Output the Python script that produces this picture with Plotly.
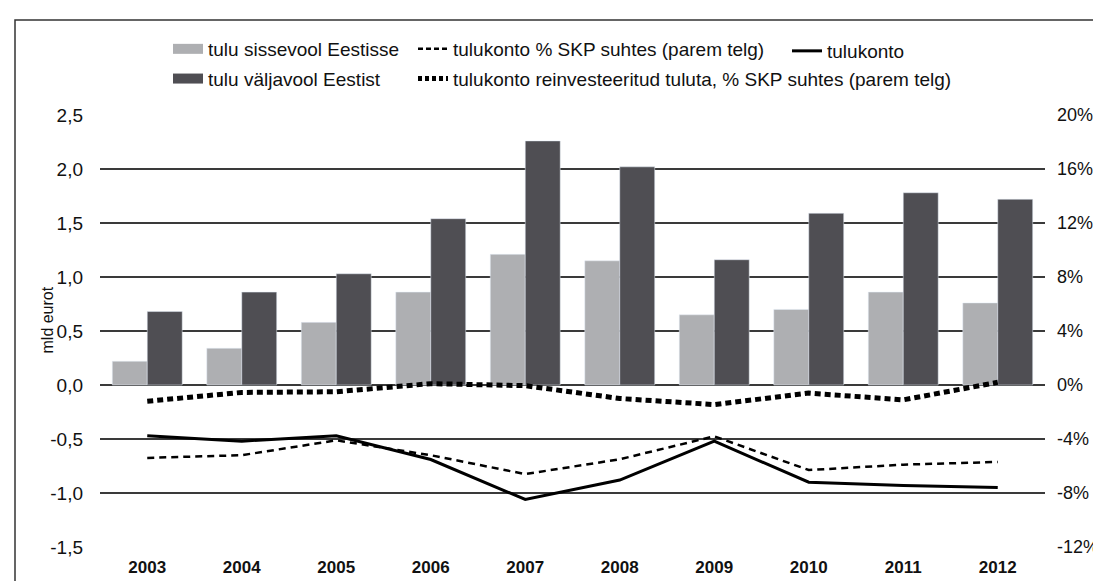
import plotly.graph_objects as go

# income account of Estonia, 2003-2012
years = ['2003', '2004', '2005', '2006', '2007', '2008', '2009', '2010', '2011', '2012']
inflow = [0.22, 0.34, 0.58, 0.86, 1.21, 1.15, 0.65, 0.70, 0.86, 0.76]   # mld eurot
outflow = [0.68, 0.86, 1.03, 1.54, 2.26, 2.02, 1.16, 1.59, 1.78, 1.72]  # mld eurot
balance = [-0.47, -0.52, -0.47, -0.69, -1.06, -0.88, -0.52, -0.90, -0.93, -0.95]  # mld eurot
balance_pct = [-5.4, -5.2, -4.1, -5.2, -6.6, -5.5, -3.8, -6.3, -5.9, -5.7]  # % SKP
balance_excl_reinv_pct = [-1.2, -0.55, -0.5, 0.1, -0.05, -1.0, -1.45, -0.6, -1.1, 0.2]  # % SKP

left_ticks = [-1.5, -1.0, -0.5, 0.0, 0.5, 1.0, 1.5, 2.0, 2.5]
left_labels = ['-1,5', '-1,0', '-0,5', '0,0', '0,5', '1,0', '1,5', '2,0', '2,5']
right_ticks = [-12, -8, -4, 0, 4, 8, 12, 16, 20]
right_labels = ['-12%', '-8%', '-4%', '0%', '4%', '8%', '12%', '16%', '20%']

LIGHT = '#aeafb2'
DARK = '#4f4e53'
FONT = 'Liberation Sans, Arial, sans-serif'

W, H = 1101, 581
L, R, T, B = 92, 64, 107, 42
pw, ph = W - L - R, H - T - B

def px(x):
    return (x - L) / pw

def py(y):
    return (H - B - y) / ph

fig = go.Figure()
fig.add_trace(go.Bar(x=years, y=inflow, marker_color=LIGHT, showlegend=False))
fig.add_trace(go.Bar(x=years, y=outflow, marker_color=DARK, showlegend=False))
fig.add_trace(go.Scatter(x=years, y=balance_excl_reinv_pct, yaxis='y2', mode='lines',
                         line=dict(color='black', width=5, dash='6px,4px'), showlegend=False))
fig.add_trace(go.Scatter(x=years, y=balance_pct, yaxis='y2', mode='lines',
                         line=dict(color='black', width=2.5, dash='7px,5px'), showlegend=False))
fig.add_trace(go.Scatter(x=years, y=balance, mode='lines',
                         line=dict(color='black', width=3), showlegend=False))

# legend entries (wide colour boxes like the original)
fig.add_trace(go.Scatter(x=[None], y=[None], mode='lines', name='tulu sissevool Eestisse',
                         line=dict(color=LIGHT, width=11), legend='legend', legendgroup='a'))
fig.add_trace(go.Scatter(x=[None], y=[None], mode='lines', name='tulu väljavool Eestist',
                         line=dict(color=DARK, width=11), legend='legend', legendgroup='b'))
fig.add_trace(go.Scatter(x=[None], y=[None], mode='lines', name='tulukonto % SKP suhtes (parem telg)',
                         line=dict(color='black', width=2.5, dash='5px,3px'), legend='legend2', legendgroup='c'))
fig.add_trace(go.Scatter(x=[None], y=[None], mode='lines',
                         name='tulukonto reinvesteeritud tuluta, % SKP suhtes (parem telg)',
                         line=dict(color='black', width=5, dash='4px,3px'), legend='legend2', legendgroup='d'))
fig.add_trace(go.Scatter(x=[None], y=[None], mode='lines', name='tulukonto',
                         line=dict(color='black', width=3), legend='legend3', legendgroup='e'))

leg = dict(orientation='v', yanchor='middle', xanchor='left', bgcolor='rgba(0,0,0,0)',
           font=dict(family=FONT, size=19, color='#111'), tracegroupgap=2, itemwidth=30)
fig.update_layout(
    width=W, height=H,
    margin=dict(l=L, r=R, t=T, b=B, autoexpand=False),
    paper_bgcolor='white', plot_bgcolor='white',
    font=dict(family=FONT, size=18, color='#111'),
    barmode='group', bargap=0.26, bargroupgap=0,
    legend=dict(leg, x=px(160), y=py(56)),
    legend2=dict(leg, x=px(405), y=py(56)),
    legend3=dict(leg, x=px(779), y=py(43)),
    xaxis=dict(type='category', showgrid=False, ticks='', showline=False,
               tickfont=dict(family=FONT, size=17, color='#111', weight='bold'),
               ticklabelstandoff=8),
    yaxis=dict(range=[-1.5, 2.5], tickvals=left_ticks, ticktext=left_labels,
               tickfont=dict(size=19),
               showgrid=True, gridcolor='#3a3a3a', gridwidth=1.5, zeroline=False,
               showline=False, ticks='', ticklabelstandoff=16),
    yaxis2=dict(range=[-12, 20], tickvals=right_ticks, ticktext=right_labels,
                tickfont=dict(size=18),
                overlaying='y', side='right', showgrid=False, zeroline=False,
                showline=False, ticks='', ticklabelstandoff=11),
    annotations=[dict(text='mld eurot', textangle=-90, x=px(28), y=py(312),
                      xref='paper', yref='paper', showarrow=False,
                      font=dict(family=FONT, size=16, color='#111'))],
    shapes=[dict(type='rect', xref='paper', yref='paper',
                 x0=px(7), x1=px(1096), y0=py(600), y1=py(12),
                 line=dict(color='#333', width=1.5), layer='below')],
)

fig.write_html("out.html")
